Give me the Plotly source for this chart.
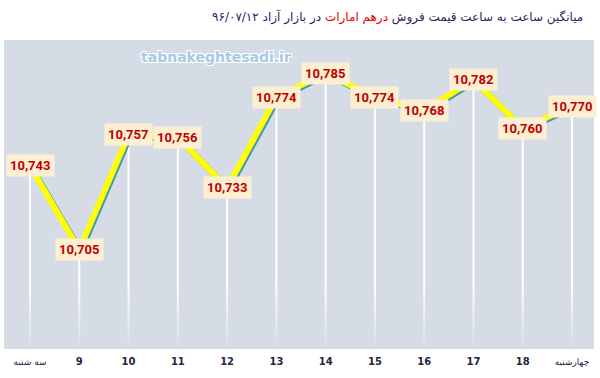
import plotly.graph_objects as go

# ---- data ----
day_labels = ["سه شنبه", "9", "10", "11", "12", "13", "14", "15", "16", "17", "18", "چهارشنبه"]
prices = [10743, 10705, 10757, 10756, 10733, 10774, 10785, 10774, 10768, 10782, 10760, 10770]
title_part1 = "میانگین ساعت به ساعت قیمت فروش "
title_part2 = "درهم امارات"
title_part3 = " در بازار آزاد ۹۶/۰۷/۱۲"
watermark = "tabnakeghtesadi.ir"

Y_MIN, Y_MAX = 10660, 10800
X_MIN, X_MAX = -0.528, 11.446
BG = "#D6DCE5"
FADE = 30

idx = list(range(len(prices)))

tick_text = []
for t in day_labels:
    if t.isdigit():
        tick_text.append("<b>" + t + "</b>")
    else:
        tick_text.append("<span style='font-size:9px'>" + t + "</span>")

fig = go.Figure()

# white drop lines from each point to the bottom of the plot
fig.add_trace(go.Scatter(
    x=idx, y=prices, mode="markers",
    marker=dict(size=1, color="rgba(0,0,0,0)"),
    error_y=dict(type="data", symmetric=False,
                 array=[0] * len(prices),
                 arrayminus=[p - Y_MIN for p in prices],
                 width=0, thickness=2, color="white"),
    hoverinfo="skip", showlegend=False))

# fade of drop lines toward the bottom
fig.add_trace(go.Scatter(
    x=[X_MIN - 1, X_MAX + 1, X_MAX + 1, X_MIN - 1],
    y=[Y_MIN, Y_MIN, Y_MIN + FADE, Y_MIN + FADE],
    mode="lines", line=dict(width=0), fill="toself",
    fillgradient=dict(type="vertical",
                      colorscale=[[0, "rgba(214,220,229,0.95)"], [1, "rgba(214,220,229,0)"]],
                      start=Y_MIN, stop=Y_MIN + FADE),
    hoverinfo="skip", showlegend=False))

# teal shadow line (same data on slightly shifted overlay axes)
fig.add_trace(go.Scatter(
    x=idx, y=prices, mode="lines", xaxis="x2", yaxis="y2",
    line=dict(color="#3E9AAE", width=6),
    hoverinfo="skip", showlegend=False))

# main yellow line (overlay axes with same range, drawn above the shadow)
fig.add_trace(go.Scatter(
    x=idx, y=prices, mode="lines", xaxis="x3", yaxis="y3",
    line=dict(color="#FFFF00", width=6),
    showlegend=False))

# value labels
for i, p in zip(idx, prices):
    fig.add_annotation(
        x=i, y=p, xref="x", yref="y", text="<b>{:,}</b>".format(p),
        showarrow=False, bgcolor="#FDF0D2", borderpad=3,
        font=dict(family="Roboto, Arial, sans-serif", size=13, color="#C00000"),
        xanchor="center", yanchor="middle")

# title
fig.add_annotation(
    xref="paper", yref="paper", x=0.985, y=1.074, xanchor="right", yanchor="middle",
    text=title_part1 + "<span style='color:#E00000'>" + title_part2 + "</span>" + title_part3,
    showarrow=False,
    font=dict(family="DejaVu Sans, sans-serif", size=12, color="#35205F"))

# watermark
fig.add_annotation(
    xref="paper", yref="paper", x=0.36, y=0.945, xanchor="center", yanchor="middle",
    text="<b>" + watermark + "</b>", showarrow=False,
    font=dict(family="Verdana, DejaVu Sans, sans-serif", size=14, color="#A9C9E6",
              shadow="1px 1px 0 #fff, -1px -1px 0 #fff, 1px -1px 0 #fff, -1px 1px 0 #fff"))

px_per_x = (X_MAX - X_MIN) / 590.0
px_per_y = (Y_MAX - Y_MIN) / 309.0
dx, dy = 1.5, 1.5

fig.update_layout(
    width=600, height=378,
    margin=dict(l=4, r=6, t=40, b=29, autoexpand=False),
    paper_bgcolor="white", plot_bgcolor=BG,
    xaxis=dict(range=[X_MIN, X_MAX], tickmode="array", tickvals=idx, ticktext=tick_text,
               showgrid=False, zeroline=False, showline=False, ticks="", automargin=False,
               ticklabelstandoff=5,
               tickfont=dict(family="DejaVu Sans, sans-serif", size=10, color="#25253F"),
               fixedrange=True),
    yaxis=dict(range=[Y_MIN, Y_MAX], showgrid=False, zeroline=False, showticklabels=False,
               showline=False, ticks="", automargin=False, fixedrange=True),
    xaxis2=dict(range=[X_MIN - dx * px_per_x, X_MAX - dx * px_per_x], overlaying="x",
                visible=False, fixedrange=True),
    yaxis2=dict(range=[Y_MIN + dy * px_per_y, Y_MAX + dy * px_per_y], overlaying="y",
                visible=False, fixedrange=True),
    xaxis3=dict(range=[X_MIN, X_MAX], overlaying="x", visible=False, fixedrange=True),
    yaxis3=dict(range=[Y_MIN, Y_MAX], overlaying="y", visible=False, fixedrange=True),
)

fig.write_html("out.html", config={"displayModeBar": False},
               post_script="document.body.style.margin='0';")
